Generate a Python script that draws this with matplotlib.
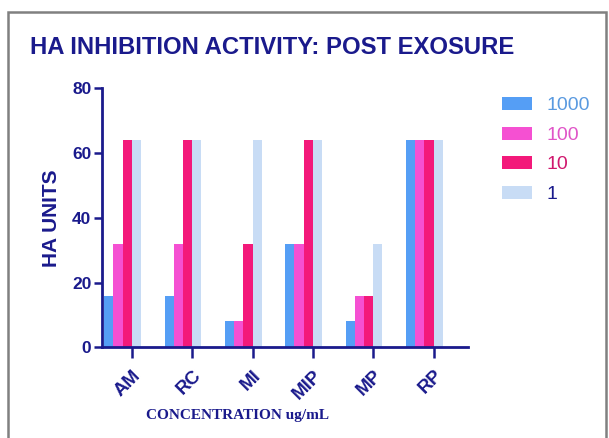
import matplotlib
matplotlib.use("Agg")
import matplotlib.pyplot as plt
from matplotlib.patches import Rectangle
from matplotlib import font_manager
import numpy as np

categories = ["AM", "RC", "MI", "MIP", "MP", "RP"]
series_names = ["1000", "100", "10", "1"]
vals_1000 = [16, 16, 8, 32, 8, 64]
vals_100 = [32, 32, 8, 32, 16, 64]
vals_10 = [64, 64, 32, 64, 16, 64]
vals_1 = [64, 64, 64, 64, 32, 64]
yticks = [0, 20, 40, 60, 80]

series = [vals_1000, vals_100, vals_10, vals_1]
colors = ["#559ef5", "#f550d2", "#f3197a", "#c8dcf5"]
label_colors = ["#5a9ae0", "#e055c8", "#d0186e", "#1a1a8c"]
navy = "#1a1a8c"

names = {f.name for f in font_manager.fontManager.ttflist}
narrow = "Liberation Sans Narrow" if "Liberation Sans Narrow" in names else "Liberation Sans"

fig = plt.figure(figsize=(6.09, 4.38), dpi=100)
W, H = 609, 438
ax = fig.add_axes([101.7 / W, 1 - 347.3 / H, (468 - 101.7) / W, (347.3 - 88.3) / H])

x = np.arange(len(categories))
w = 0.153
offsets = [-3, -2, -1, 0]
for vals, off, c, name in zip(series, offsets, colors, series_names):
    ax.bar(x + off * w, vals, width=w, align="edge", color=c, label=name, linewidth=0)

ax.set_xlim(-0.5, 5.57)
ax.set_ylim(0, 80)
ax.set_yticks(yticks)
ax.set_xticks(x)
ax.set_xticklabels(categories, rotation=45, ha="right", va="top",
                   rotation_mode="anchor", fontsize=13.5, fontweight="heavy",
                   color=navy, family="Liberation Sans")
for lab in ax.get_yticklabels():
    lab.set_fontsize(12.5)
    lab.set_fontweight("bold")
    lab.set_color(navy)
    lab.set_family("Liberation Sans")
ax.tick_params(axis="y", direction="out", length=6, width=1.8, color=navy, pad=1.5)
ax.tick_params(axis="x", direction="out", length=8, width=1.8, color=navy, pad=6)
for s in ["top", "right"]:
    ax.spines[s].set_visible(False)
for s in ["left", "bottom"]:
    ax.spines[s].set_color(navy)
    ax.spines[s].set_linewidth(2)

ax.set_ylabel("HA UNITS", fontsize=15, fontweight="bold", color=navy,
              family="Liberation Sans", labelpad=8)

fig.text(238 / W, 1 - 415 / H, "CONCENTRATION ug/mL", ha="center", va="center",
         fontsize=11, fontweight="bold", color=navy, family="Liberation Serif")

fig.text(30 / W, 1 - 48 / H, "HA INHIBITION ACTIVITY: POST EXOSURE", ha="left",
         va="center", fontsize=17.2, fontweight="bold", color=navy, family=narrow)

leg = fig.legend(loc="upper left", bbox_to_anchor=(502 / W, 1 - 97 / H),
                 frameon=False, fontsize=14, handlelength=1.55, handleheight=0.65,
                 labelspacing=0.63, handletextpad=0.75, borderpad=0,
                 borderaxespad=0)
for t, c in zip(leg.get_texts(), label_colors):
    t.set_color(c)
    t.set_family("Liberation Sans")

fig.patches.append(Rectangle((8 / W, -0.05), (606 - 8) / W, (1 - 12 / H) + 0.05,
                             transform=fig.transFigure, fill=False,
                             edgecolor="#808080", linewidth=1.8))

fig.savefig("out.png", dpi=100)
